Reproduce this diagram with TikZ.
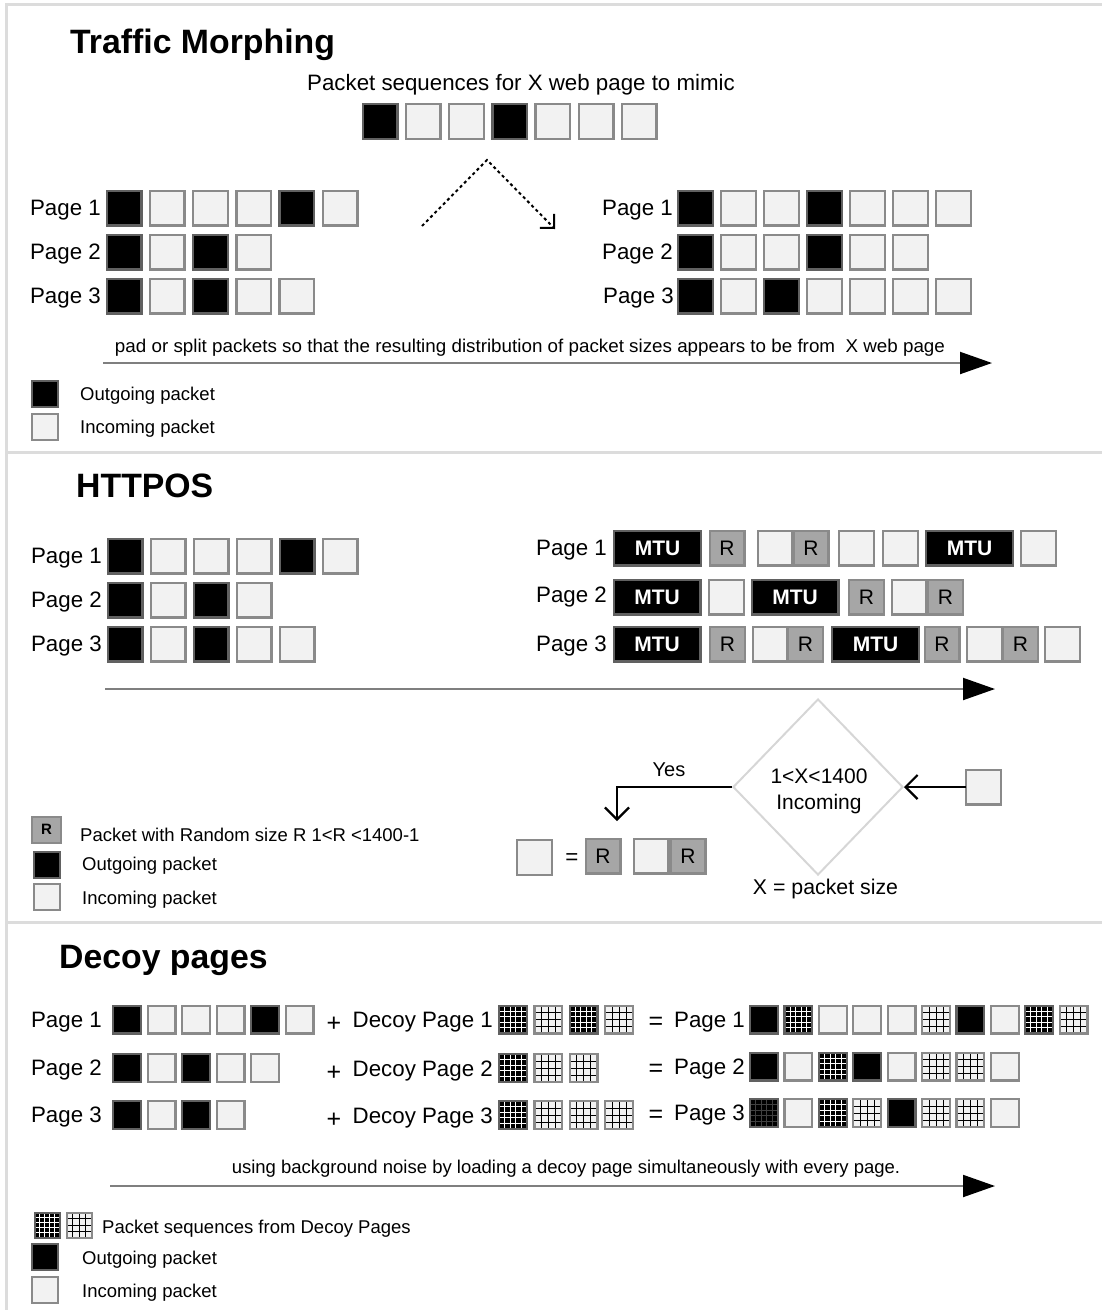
\documentclass[tikz,border=0pt]{standalone}
\usepackage{fontspec}
\setmainfont{Liberation Sans}
\usetikzlibrary{arrows.meta,shapes.geometric,calc}
\definecolor{incfill}{HTML}{F2F2F2}
\definecolor{pedge}{HTML}{8A8A8A}
\definecolor{rfill}{HTML}{A6A6A6}
\definecolor{sepcol}{HTML}{DCDCDC}
\definecolor{diacol}{HTML}{D6D6D6}
\definecolor{flowcol}{HTML}{7F7F7F}
\newcommand\pktgrid[3]{\foreach \f in {#3}{%
 \draw[#1,line width=#2] ($(path picture bounding box.north west)!\f!(path picture bounding box.north east)$) -- ($(path picture bounding box.south west)!\f!(path picture bounding box.south east)$);
 \draw[#1,line width=#2] ($(path picture bounding box.north west)!\f!(path picture bounding box.south west)$) -- ($(path picture bounding box.north east)!\f!(path picture bounding box.south east)$);}}
\tikzset{
 bx/.style={draw=pedge, line width=2.4pt, minimum width=34.6pt, minimum height=34.6pt, inner sep=0pt, outer sep=0pt},
 sx/.style={draw=pedge, line width=2.2pt, minimum width=27.8pt, minimum height=27.8pt, inner sep=0pt, outer sep=0pt},
 lx/.style={draw=pedge, line width=2pt, minimum width=26pt, minimum height=26pt, inner sep=0pt, outer sep=0pt},
 pk/.style={pk#1},
 pkb/.style={fill=black, draw=black!62},
 pkw/.style={fill=incfill},
 pkr/.style={fill=rfill, font=\fontsize{21}{24}\selectfont},
 pkd/.style={fill=black, draw=black!62, path picture={\pktgrid{white}{1pt}{0.2,0.4,0.6,0.8}}},
 pkl/.style={fill=incfill, path picture={\pktgrid{black}{0.7pt}{0.25,0.5,0.75}}},
 pkx/.style={fill=black, draw=black!62, path picture={\pktgrid{black!75!white}{0.8pt}{0.2,0.4,0.6,0.8}}},
 mtu/.style={bx, fill=black, draw=black!62, minimum width=86.6pt, text=white, font=\fontsize{21}{24}\selectfont\bfseries},
 lbl/.style={font=\fontsize{22.3}{26}\selectfont, inner sep=0pt, yshift=-2pt},
 leg/.style={font=\fontsize{18.5}{22}\selectfont, inner sep=0pt, anchor=west, yshift=-2.5pt},
 ttl/.style={font=\fontsize{33.8}{38}\selectfont\bfseries, inner sep=0pt, anchor=base west},
 flow/.style={draw=flowcol, line width=2pt, -{Triangle[length=32pt,width=22pt,color=black]}},
 barb/.style={line width=2.2pt, -{Straight Barb[length=12pt,width=24pt]}},
 dots/.style={line width=2pt, dash pattern=on 3pt off 3pt, -{Straight Barb[length=10pt,width=20pt]}},
 sepline/.style={draw=sepcol, line width=3pt}
}
\begin{document}
\begin{tikzpicture}[x=1pt,y=-1pt]
\useasboundingbox (0,0) rectangle (1102,1310);
% frame and separators
\draw[sepline] (6,1310) -- (6,4) -- (1102,4);
\draw[sepline] (6,452) -- (1102,452);
\draw[sepline] (6,922) -- (1102,922);

% ================= Traffic Morphing
\node[ttl] (t1) at (70,53) {Traffic Morphing};
\node[lbl] (cap) at (521,83) {Packet sequences for X web page to mimic};
\foreach \t [count=\i] in {b,w,w,b,w,w,w}
  \node[bx, pk/.expanded=\t] (ts\i) at ({380+43.2*(\i-1)},121.5) {};
\coordinate (d0) at (422,226);
\coordinate (d1) at (487,160);
\coordinate (d2) at (555,229);
\draw[dots] (d0) -- (d1) -- (d2);

\node[lbl,anchor=east] (la1) at (101,208) {Page 1};
\node[lbl,anchor=east] (la2) at (101,252) {Page 2};
\node[lbl,anchor=east] (la3) at (101,296) {Page 3};
\foreach \t [count=\i] in {b,w,w,w,b,w}
  \node[bx, pk/.expanded=\t] (a1-\i) at ({124+43.2*(\i-1)},208) {};
\foreach \t [count=\i] in {b,w,b,w}
  \node[bx, pk/.expanded=\t] (a2-\i) at ({124+43.2*(\i-1)},252) {};
\foreach \t [count=\i] in {b,w,b,w,w}
  \node[bx, pk/.expanded=\t] (a3-\i) at ({124+43.2*(\i-1)},296) {};

\node[lbl,anchor=east] (lb1) at (673,208) {Page 1};
\node[lbl,anchor=east] (lb2) at (673,252) {Page 2};
\node[lbl,anchor=east] (lb3) at (674,296) {Page 3};
\foreach \t [count=\i] in {b,w,w,b,w,w,w}
  \node[bx, pk/.expanded=\t] (b1-\i) at ({695.5+43*(\i-1)},208) {};
\foreach \t [count=\i] in {b,w,w,b,w,w}
  \node[bx, pk/.expanded=\t] (b2-\i) at ({695.5+43*(\i-1)},252) {};
\foreach \t [count=\i] in {b,w,b,w,w,w,w}
  \node[bx, pk/.expanded=\t] (b3-\i) at ({695.5+43*(\i-1)},296) {};

\coordinate (f1s) at (103,363);
\coordinate (f1e) at (992,363);
\draw[flow] (f1s) -- (f1e);
\node[inner sep=0pt, font=\fontsize{18.5}{22}\selectfont] (f1t) at (530,348) {\resizebox{830pt}{\height}{pad or split packets so that the resulting distribution of packet sizes appears to be from\ \ X web page}};

\node[lx, pkb] (g1o) at (44.5,394) {};
\node[leg] (g1ot) at (80,393) {Outgoing packet};
\node[lx, pkw] (g1i) at (44.5,427) {};
\node[leg] (g1it) at (80,426) {Incoming packet};

% ================= HTTPOS
\node[ttl] (t2) at (76,497) {HTTPOS};
\node[lbl,anchor=east] (lc1) at (102,556) {Page 1};
\node[lbl,anchor=east] (lc2) at (102,600) {Page 2};
\node[lbl,anchor=east] (lc3) at (102,644) {Page 3};
\foreach \t [count=\i] in {b,w,w,w,b,w}
  \node[bx, pk/.expanded=\t] (c1-\i) at ({125+43*(\i-1)},556) {};
\foreach \t [count=\i] in {b,w,b,w}
  \node[bx, pk/.expanded=\t] (c2-\i) at ({125+43*(\i-1)},600) {};
\foreach \t [count=\i] in {b,w,b,w,w}
  \node[bx, pk/.expanded=\t] (c3-\i) at ({125+43*(\i-1)},644) {};

\node[lbl,anchor=east] (ld1) at (607,548) {Page 1};
\node[mtu] (m11) at (657.5,548) {MTU};
\node[bx,pkr] (m12) at (727,548) {R};
\node[bx,pkw] (m13) at (775,548) {};
\node[bx,pkr] (m14) at (811,548) {R};
\node[bx,pkw] (m15) at (856.5,548) {};
\node[bx,pkw] (m16) at (900.5,548) {};
\node[mtu] (m17) at (969.5,548) {MTU};
\node[bx,pkw] (m18) at (1038.5,548) {};

\node[lbl,anchor=east] (ld2) at (607,595) {Page 2};
\node[mtu] (m21) at (657,597) {MTU};
\node[bx,pkw] (m22) at (726.5,597) {};
\node[mtu] (m23) at (795,597) {MTU};
\node[bx,pkr] (m24) at (866.5,597) {R};
\node[bx,pkw] (m25) at (909,597) {};
\node[bx,pkr] (m26) at (945.5,597) {R};

\node[lbl,anchor=east] (ld3) at (607,644) {Page 3};
\node[mtu] (m31) at (657,644) {MTU};
\node[bx,pkr] (m32) at (727.5,644) {R};
\node[bx,pkw] (m33) at (770,644) {};
\node[bx,pkr] (m34) at (805.5,644) {R};
\node[mtu] (m35) at (875.5,644) {MTU};
\node[bx,pkr] (m36) at (942,644) {R};
\node[bx,pkw] (m37) at (984.5,644) {};
\node[bx,pkr] (m38) at (1020.5,644) {R};
\node[bx,pkw] (m39) at (1062.5,644) {};

\coordinate (f2s) at (105,689);
\coordinate (f2e) at (995,689);
\draw[flow] (f2s) -- (f2e);

\node[diamond, draw=diacol, line width=2pt, minimum width=170pt, minimum height=176pt, inner sep=0pt] (dia) at (818,787) {};
\node[align=center, inner sep=0pt, font=\fontsize{21}{26}\selectfont] (diat) at (819,791) {1<X<1400\\Incoming};
\node[bx,pkw] (inb) at (983.5,787) {};
\draw[barb] (inb.west) -- (dia.east);
\coordinate (yesend) at (617,821);
\draw[barb] (dia.west) -| (yesend);
\node[inner sep=0pt, font=\fontsize{20}{24}\selectfont] (yes) at (669,770) {Yes};

\node[bx,pkw] (e1) at (534.5,857.5) {};
\node[lbl] (eq) at (572,857) {=};
\node[bx,pkr] (e2) at (603,856) {R};
\node[bx,pkw] (e3) at (651,856) {};
\node[bx,pkr] (e4) at (688,856) {R};
\node[inner sep=0pt, font=\fontsize{21.3}{24}\selectfont] (xps) at (825.5,889) {X = packet size};

\node[lx, fill=rfill, minimum width=29pt, font=\fontsize{15}{18}\selectfont\bfseries] (g2r) at (46.5,829.5) {R};
\node[leg] (g2rt) at (80,832) {Packet with Random size R 1<R <1400-1};
\node[lx, pkb] (g2o) at (46.5,865) {};
\node[leg] (g2ot) at (82,863) {Outgoing packet};
\node[lx, pkw] (g2i) at (46.5,897) {};
\node[leg] (g2it) at (82,897) {Incoming packet};

% ================= Decoy pages
\node[ttl] (t3) at (59,968) {Decoy pages};
\node[lbl,anchor=east] (le1) at (102,1020) {Page 1};
\node[lbl,anchor=east] (le2) at (102,1068) {Page 2};
\node[lbl,anchor=east] (le3) at (102,1115) {Page 3};
\foreach \t [count=\i] in {b,w,w,w,b,w}
  \node[sx, pk/.expanded=\t] (e1-\i) at ({127+34.5*(\i-1)},1019.5) {};
\foreach \t [count=\i] in {b,w,b,w,w}
  \node[sx, pk/.expanded=\t] (e2-\i) at ({127+34.5*(\i-1)},1068) {};
\foreach \t [count=\i] in {b,w,b,w}
  \node[sx, pk/.expanded=\t] (e3-\i) at ({127+34.5*(\i-1)},1115) {};

\node[lbl, font=\fontsize{25}{28}\selectfont] (pl1) at (334,1022) {+};
\node[lbl, font=\fontsize{25}{28}\selectfont] (pl2) at (334,1071) {+};
\node[lbl, font=\fontsize{25}{28}\selectfont] (pl3) at (334,1118) {+};
\node[lbl,anchor=east] (dp1) at (493,1020) {Decoy Page 1};
\node[lbl,anchor=east] (dp2) at (493,1069) {Decoy Page 2};
\node[lbl,anchor=east] (dp3) at (493,1116) {Decoy Page 3};
\foreach \t [count=\i] in {d,l,d,l}
  \node[sx, pk/.expanded=\t] (h1-\i) at ({513+35.3*(\i-1)},1019.5) {};
\foreach \t [count=\i] in {d,l,l}
  \node[sx, pk/.expanded=\t] (h2-\i) at ({513+35.3*(\i-1)},1068) {};
\foreach \t [count=\i] in {d,l,l,l}
  \node[sx, pk/.expanded=\t] (h3-\i) at ({513+35.3*(\i-1)},1115) {};

\node[lbl, font=\fontsize{25}{28}\selectfont] (q1) at (656,1021) {=};
\node[lbl, font=\fontsize{25}{28}\selectfont] (q2) at (656,1068) {=};
\node[lbl, font=\fontsize{25}{28}\selectfont] (q3) at (656,1114) {=};
\node[lbl,anchor=east] (rp1) at (745,1020) {Page 1};
\node[lbl,anchor=east] (rp2) at (745,1067) {Page 2};
\node[lbl,anchor=east] (rp3) at (745,1113) {Page 3};
\foreach \t [count=\i] in {b,d,w,w,w,l,b,w,d,l}
  \node[sx, pk/.expanded=\t] (r1-\i) at ({764+34.4*(\i-1)},1019.5) {};
\foreach \t [count=\i] in {b,w,d,b,w,l,l,w}
  \node[sx, pk/.expanded=\t] (r2-\i) at ({764+34.4*(\i-1)},1066.5) {};
\foreach \t [count=\i] in {x,w,d,l,b,l,l,w}
  \node[sx, pk/.expanded=\t] (r3-\i) at ({764+34.4*(\i-1)},1113) {};

\coordinate (f3s) at (110,1186);
\coordinate (f3e) at (995,1186);
\draw[flow] (f3s) -- (f3e);
\node[inner sep=0pt, font=\fontsize{18.5}{22}\selectfont] (f3t) at (566,1169) {using background noise by loading a decoy page simultaneously with every page.};

\node[lx, pkd, minimum width=25pt, minimum height=25pt] (g3d) at (47,1225) {};
\node[lx, pkl, minimum width=25pt, minimum height=25pt] (g3l) at (79,1225) {};
\node[leg] (g3dt) at (102,1226) {Packet sequences from Decoy Pages};
\node[lx, pkb] (g3o) at (44.5,1257) {};
\node[leg] (g3ot) at (82,1257) {Outgoing packet};
\node[lx, pkw] (g3i) at (44.5,1290) {};
\node[leg] (g3it) at (82,1290) {Incoming packet};
\end{tikzpicture}
\end{document}
